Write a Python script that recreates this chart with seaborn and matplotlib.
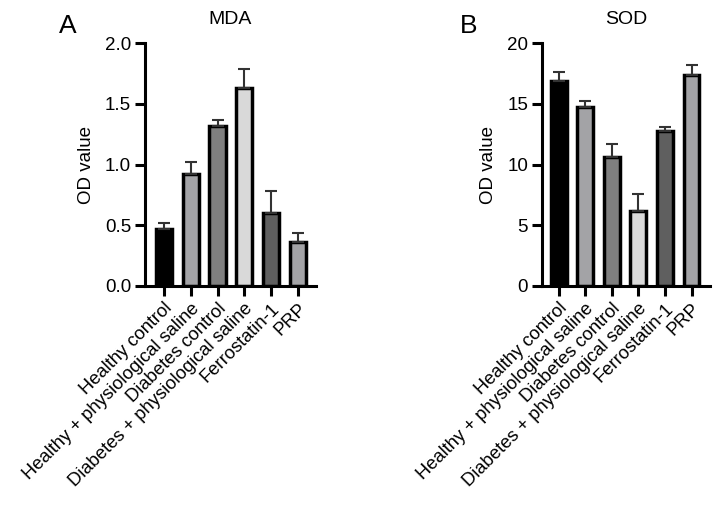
import numpy as np
import pandas as pd
import matplotlib
matplotlib.use('Agg')
import matplotlib.pyplot as plt
import seaborn as sns

groups = ['Healthy control', 'Healthy + physiological saline', 'Diabetes control',
          'Diabetes + physiological saline', 'Ferrostatin-1', 'PRP']
mda_mean = [0.47, 0.92, 1.32, 1.63, 0.60, 0.36]
mda_err = [0.05, 0.10, 0.05, 0.16, 0.18, 0.08]
sod_mean = [16.9, 14.7, 10.6, 6.2, 12.8, 17.4]
sod_err = [0.7, 0.5, 1.1, 1.4, 0.3, 0.8]
bar_colors = ['#000000', '#a3a3a6', '#7f7f7f', '#d9d9d9', '#5f5f5f', '#a3a3a6']

sns.set_style('ticks')
plt.rcParams['font.family'] = ['Liberation Sans', 'DejaVu Sans']
plt.rcParams['text.color'] = 'black'
plt.rcParams['axes.labelcolor'] = 'black'
plt.rcParams['xtick.color'] = 'black'
plt.rcParams['ytick.color'] = 'black'

fig = plt.figure(figsize=(7.16, 5.07), dpi=100)
ax_a = fig.add_axes([0.2025, 0.436, 0.239, 0.479])
ax_b = fig.add_axes([0.757, 0.436, 0.234, 0.479])


def draw_panel(ax, means, errs, title, ylim, yticks, ticklabels, xlim):
    df = pd.DataFrame({'group': groups, 'value': means})
    sns.barplot(data=df, x='group', y='value', hue='group', palette=bar_colors,
                legend=False, width=0.6, edgecolor='black', linewidth=2.5, ax=ax)
    # one-sided error bars (mean + SD)
    ax.errorbar(np.arange(len(groups)), means, yerr=[np.zeros(len(errs)), errs],
                fmt='none', ecolor='#333333', elinewidth=1.5, capsize=4, capthick=1.5, zorder=1)
    ax.set_ylim(*ylim)
    ax.set_xlim(*xlim)
    ax.set_yticks(yticks)
    ax.set_yticklabels(ticklabels, fontsize=13.5)
    ax.set_xticks(np.arange(len(groups)))
    ax.set_xticklabels(groups, rotation=45, ha='right', rotation_mode='anchor', fontsize=13.2)
    ax.set_xlabel('')
    ax.set_ylabel('OD value', fontsize=13.5, labelpad=7)
    ax.set_title(title, fontsize=14, pad=14)
    for s in ['top', 'right']:
        ax.spines[s].set_visible(False)
    for s in ['left', 'bottom']:
        ax.spines[s].set_linewidth(2.2)
        ax.spines[s].set_color('black')
    ax.tick_params(axis='both', direction='out', length=7, width=2.2, pad=3)


draw_panel(ax_a, mda_mean, mda_err, 'MDA', (0, 2.0), [0, 0.5, 1.0, 1.5, 2.0],
           ['0.0', '0.5', '1.0', '1.5', '2.0'], (-0.7, 5.67))
draw_panel(ax_b, sod_mean, sod_err, 'SOD', (0, 20), [0, 5, 10, 15, 20],
           ['0', '5', '10', '15', '20'], (-0.63, 5.68))

fig.text(0.083, 0.935, 'A', fontsize=19)
fig.text(0.642, 0.935, 'B', fontsize=19)

fig.savefig('out.png', dpi=100)
